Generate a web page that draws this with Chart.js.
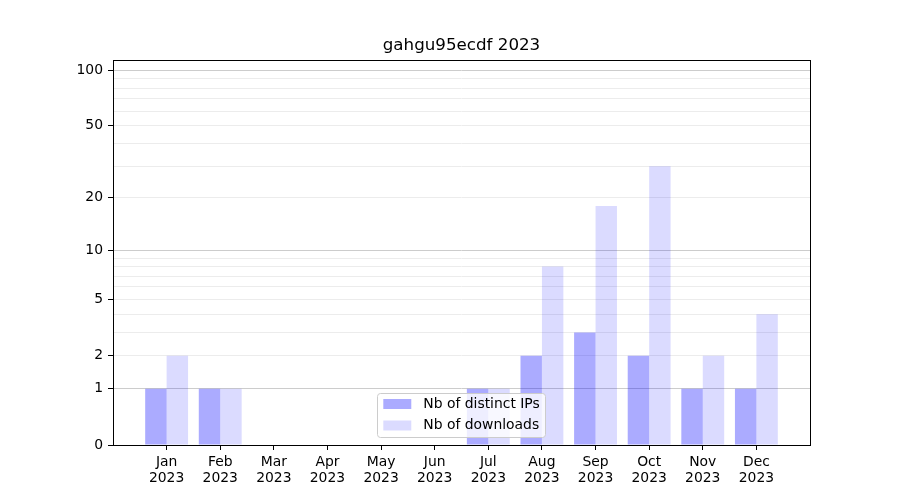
<!DOCTYPE html>
<html>
<head>
<meta charset="utf-8">
<script src="https://cdn.jsdelivr.net/npm/chart.js@4.4.0/dist/chart.umd.min.js"></script>
<style>
html, body { margin: 0; padding: 0; background: #fff; }
canvas { display: block; }
</style>
</head>
<body>
<canvas id="statsChart" width="900" height="500"></canvas>
<script>
// data
const months = ['Jan', 'Feb', 'Mar', 'Apr', 'May', 'Jun', 'Jul', 'Aug', 'Sep', 'Oct', 'Nov', 'Dec'];
const year = '2023';
const distinctIps = [1, 1, 0, 0, 0, 0, 1, 2, 3, 2, 1, 1];
const downloads = [2, 1, 0, 0, 0, 0, 1, 8, 18, 30, 2, 4];
const yGridValues = [0, 1, 2, 3, 4, 5, 6, 7, 8, 9, 10, 20, 30, 40, 50, 60, 70, 80, 90, 100];
const yTickLabels = [0, 1, 2, 5, 10, 20, 50, 100];
const yMajorLines = [1, 10, 100];

// y axis is log10(1 + v)
const tr = v => Math.log10(1 + v);

// one empty slot on each side, like the matplotlib margins
const labels = [''].concat(months.map(m => [m, year]), ['']);
const pad = arr => [null].concat(arr.map(tr), [null]);

const FONT = '"DejaVu Sans", sans-serif';

const frameAndLegend = {
    id: 'frameAndLegend',
    afterDatasetsDraw(chart) {
        const ctx = chart.ctx;
        const a = chart.chartArea;
        ctx.save();

        // legend, lower center inside the plot
        ctx.font = '13.9px ' + FONT;
        const sets = chart.data.datasets;
        const textW = Math.max(...sets.map(d => ctx.measureText(d.label).width));
        const patchW = 28, patchH = 10, gap = 12, padX = 6;
        const w = padX + patchW + gap + textW + padX;
        const h = 44;
        const x0 = (a.left + a.right) / 2 - w / 2;
        const y0 = a.bottom - 8 - h;
        ctx.beginPath();
        ctx.roundRect(Math.round(x0) + 0.5, Math.round(y0) + 0.5, Math.round(w), h, 3);
        ctx.fillStyle = 'rgba(255,255,255,0.8)';
        ctx.fill();
        ctx.strokeStyle = '#cccccc';
        ctx.lineWidth = 1;
        ctx.stroke();
        sets.forEach((d, i) => {
            const cy = y0 + 11 + i * 21.5;
            ctx.fillStyle = d.backgroundColor;
            ctx.fillRect(x0 + padX, cy - patchH / 2, patchW, patchH);
            ctx.fillStyle = '#000';
            ctx.textBaseline = 'middle';
            ctx.textAlign = 'left';
            ctx.fillText(d.label, x0 + padX + patchW + gap, cy);
        });

        // plot frame
        ctx.strokeStyle = '#000';
        ctx.lineWidth = 1;
        ctx.strokeRect(Math.round(a.left) + 0.5, Math.round(a.top) + 0.5,
            Math.round(a.width), Math.round(a.height));
        ctx.restore();
    }
};

const ctx = document.getElementById('statsChart').getContext('2d');
new Chart(ctx, {
    type: 'bar',
    data: {
        labels: labels,
        datasets: [{
            label: 'Nb of distinct IPs',
            data: pad(distinctIps),
            backgroundColor: 'rgba(0, 0, 255, 0.33)',
            borderWidth: 0
        }, {
            label: 'Nb of downloads',
            data: pad(downloads),
            backgroundColor: 'rgba(0, 0, 255, 0.14)',
            borderWidth: 0
        }]
    },
    options: {
        responsive: false,
        animation: false,
        categoryPercentage: 0.8,
        barPercentage: 1.0,
        layout: { padding: { left: 0, right: 90, top: 0, bottom: 0 } },
        plugins: {
            legend: { display: false },
            tooltip: { enabled: false },
            title: {
                display: true,
                fullSize: false,
                text: 'gahgu95ecdf ' + year,
                color: '#000',
                font: { family: FONT, size: 16.7, weight: 'normal', lineHeight: 1.2 },
                padding: { top: 36, bottom: 4 }
            }
        },
        scales: {
            x: {
                type: 'category',
                offset: false,
                border: { display: false },
                grid: {
                    display: true,
                    offset: false,
                    drawOnChartArea: false,
                    drawTicks: true,
                    tickLength: 5,
                    tickColor: '#000'
                },
                ticks: {
                    autoSkip: false,
                    maxRotation: 0,
                    padding: 4,
                    color: '#000',
                    font: { family: FONT, size: 13.9, lineHeight: 1.15 }
                },
                afterBuildTicks(scale) {
                    scale.ticks = scale.ticks.filter(t => t.value > 0 && t.value < labels.length - 1);
                },
                afterFit(scale) { scale.height = 55; }
            },
            y: {
                type: 'linear',
                min: 0,
                max: 2.059,
                border: { display: false },
                afterBuildTicks(scale) {
                    scale.ticks = yGridValues.map(v => ({ value: tr(v), raw: v }));
                },
                grid: {
                    drawTicks: true,
                    tickLength: 5,
                    color: c => {
                        const v = c.tick ? c.tick.raw : null;
                        if (v === 0) return 'rgba(0,0,0,0)';
                        return yMajorLines.includes(v) ? '#cccccc' : '#ececec';
                    },
                    tickColor: c => (c.tick && yTickLabels.includes(c.tick.raw)) ? '#000' : 'rgba(0,0,0,0)'
                },
                ticks: {
                    padding: 5,
                    color: '#000',
                    font: { family: FONT, size: 13.9 },
                    callback: function (value, index, ticks) {
                        const v = ticks[index].raw;
                        return yTickLabels.includes(v) ? String(v) : '';
                    }
                },
                afterFit(scale) { scale.width = 113; }
            }
        }
    },
    plugins: [frameAndLegend]
});
</script>
</body>
</html>
